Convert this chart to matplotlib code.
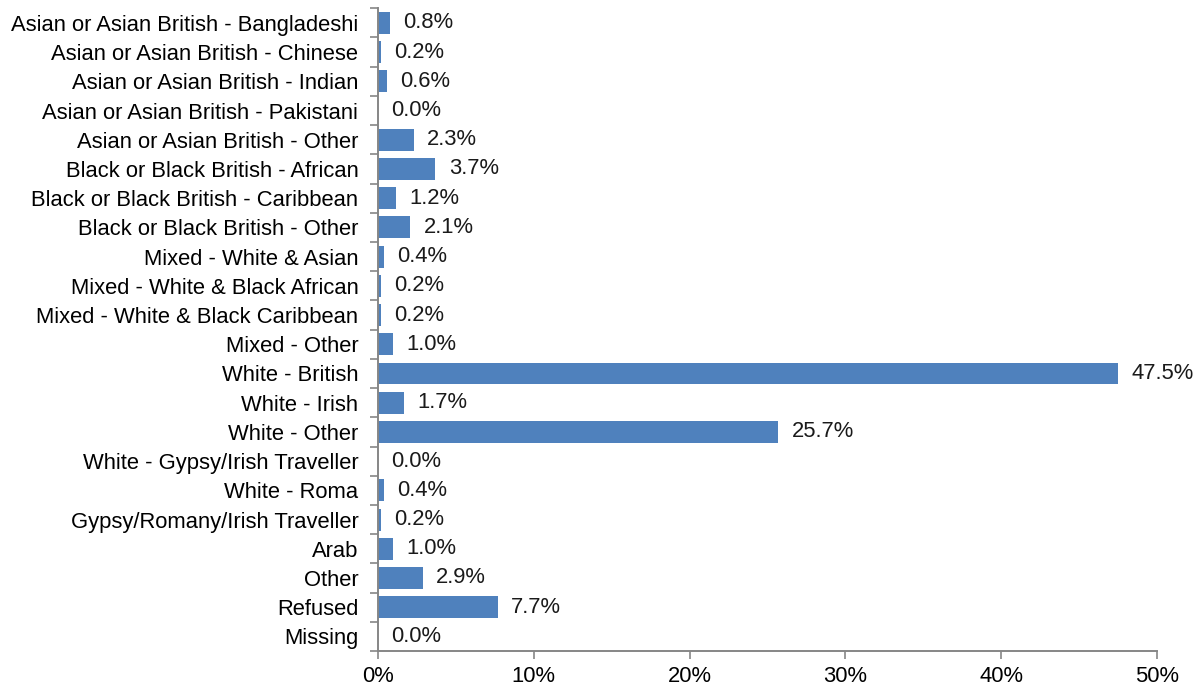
import matplotlib.pyplot as plt
from matplotlib.ticker import FixedLocator, PercentFormatter

plt.rcParams['font.family'] = ['Liberation Sans', 'DejaVu Sans']

# ethnic groups, top to bottom
groups = [
    "Asian or Asian British - Bangladeshi",
    "Asian or Asian British - Chinese",
    "Asian or Asian British - Indian",
    "Asian or Asian British - Pakistani",
    "Asian or Asian British - Other",
    "Black or Black British - African",
    "Black or Black British - Caribbean",
    "Black or Black British - Other",
    "Mixed - White & Asian",
    "Mixed - White & Black African",
    "Mixed - White & Black Caribbean",
    "Mixed - Other",
    "White - British",
    "White - Irish",
    "White - Other",
    "White - Gypsy/Irish Traveller",
    "White - Roma",
    "Gypsy/Romany/Irish Traveller",
    "Arab",
    "Other",
    "Refused",
    "Missing",
]
shares = [0.8, 0.2, 0.6, 0.0, 2.3, 3.7, 1.2, 2.1, 0.4, 0.2, 0.2, 1.0,
          47.5, 1.7, 25.7, 0.0, 0.4, 0.2, 1.0, 2.9, 7.7, 0.0]

bar_col = "#4F81BD"
axis_col = "#868686"
fs = 15.8

fig = plt.figure(figsize=(12.03, 6.9), dpi=100)
ax = fig.add_axes([0.314, 0.0565, 0.648, 0.9315])

ypos = list(range(len(groups)))
bars = ax.barh(ypos, shares, height=0.75, color=bar_col)

for y, v in zip(ypos, shares):
    ax.text(v + 0.85, y, f"{v:.1f}%", va="center", ha="left", fontsize=fs, color="#1a1a1a")

ax.set_ylim(len(groups) - 0.5, -0.5)
ax.set_xlim(0, 50)
ax.set_yticks(ypos)
ax.set_yticklabels(groups, fontsize=fs)
ax.yaxis.set_minor_locator(FixedLocator([i - 0.5 for i in range(len(groups) + 1)]))
ax.tick_params(axis="y", which="major", length=0, pad=14)
ax.tick_params(axis="y", which="minor", length=6, width=1.2, color=axis_col, direction="out")

ax.set_xticks([0, 10, 20, 30, 40, 50])
ax.xaxis.set_major_formatter(PercentFormatter(decimals=0))
ax.tick_params(axis="x", length=6, width=1.2, color=axis_col, labelsize=fs, pad=5)

for s in ["top", "right"]:
    ax.spines[s].set_visible(False)
for s in ["left", "bottom"]:
    ax.spines[s].set_color(axis_col)
    ax.spines[s].set_linewidth(1.4)

fig.savefig("out.png", dpi=100)
